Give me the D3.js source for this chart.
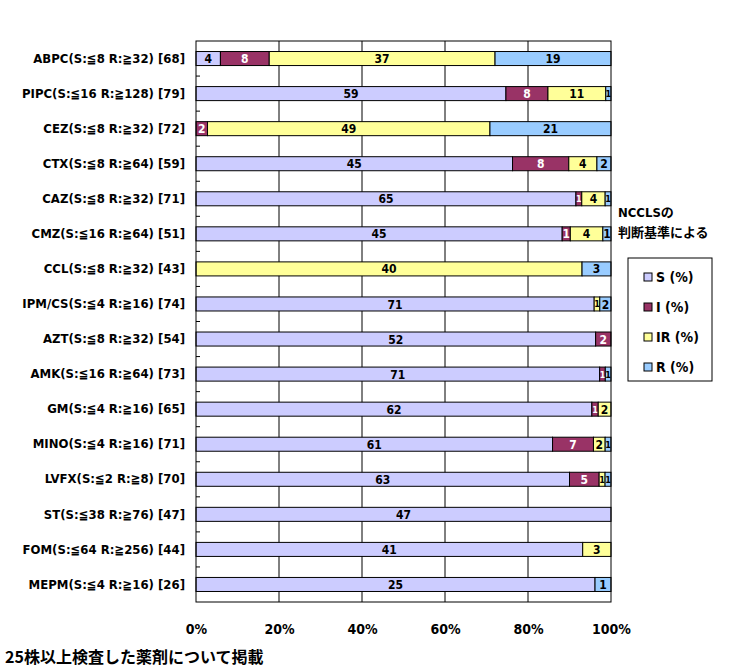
<!DOCTYPE html>
<html>
<head>
<meta charset="utf-8">
<script src="https://cdn.jsdelivr.net/npm/d3@7"></script>
<style>
  body { margin: 0; background: #fff; }
  svg text { font-family: "DejaVu Sans Condensed", "Noto Sans CJK JP", sans-serif; font-weight: bold; }
</style>
</head>
<body>
<div id="chartContainer"></div>
<script>
// drugs, top to bottom
const drugs = [
  "ABPC(S:≦8 R:≧32) [68]", "PIPC(S:≦16 R:≧128) [79]", "CEZ(S:≦8 R:≧32) [72]",
  "CTX(S:≦8 R:≧64) [59]", "CAZ(S:≦8 R:≧32) [71]", "CMZ(S:≦16 R:≧64) [51]",
  "CCL(S:≦8 R:≧32) [43]", "IPM/CS(S:≦4 R:≧16) [74]", "AZT(S:≦8 R:≧32) [54]",
  "AMK(S:≦16 R:≧64) [73]", "GM(S:≦4 R:≧16) [65]", "MINO(S:≦4 R:≧16) [71]",
  "LVFX(S:≦2 R:≧8) [70]", "ST(S:≦38 R:≧76) [47]", "FOM(S:≦64 R:≧256) [44]",
  "MEPM(S:≦4 R:≧16) [26]"
]
const sVals  = [4, 59, 0, 45, 65, 45, 0, 71, 52, 71, 62, 61, 63, 47, 41, 25]
const iVals  = [8, 8, 2, 8, 1, 1, 0, 0, 2, 1, 1, 7, 5, 0, 0, 0]
const irVals = [37, 11, 49, 4, 4, 4, 40, 1, 0, 0, 2, 2, 1, 0, 3, 0]
const rVals  = [19, 1, 21, 2, 1, 1, 3, 2, 0, 1, 0, 1, 1, 0, 0, 1]
const seriesNames = ["S (%)", "I (%)", "IR (%)", "R (%)"]
const seriesColors = ["#ccccff", "#993366", "#ffff99", "#99ccff"]
const xTicks = [0, 0.2, 0.4, 0.6, 0.8, 1]

const width = 738, height = 672
const margin = {top: 41, right: 127, bottom: 70, left: 196}

const rows = drugs.map((d, i) => ({
  name: d, s: sVals[i], i: iVals[i], ir: irVals[i], r: rVals[i]
}))
const keys = ["s", "i", "ir", "r"]

const stacked = d3.stack()
    .keys(keys)
    .offset(d3.stackOffsetExpand)(rows)

const x = d3.scaleLinear()
    .domain([0, 1])
    .range([margin.left, width - margin.right])

const y = d3.scaleBand()
    .domain(drugs)
    .range([margin.top, height - margin.bottom])
    .paddingInner(0.6)
    .paddingOuter(0.3)

const svg = d3.select('#chartContainer')
  .append('svg')
  .attr('width', width)
  .attr('height', height)

// vertical grid lines
svg.append("g")
  .selectAll("line")
  .data(xTicks.slice(1, -1))
  .join("line")
    .attr("x1", d => x(d)).attr("x2", d => x(d))
    .attr("y1", margin.top).attr("y2", height - margin.bottom)
    .attr("stroke", "#000")

// stacked segments
const layer = svg.append("g")
  .selectAll("g")
  .data(stacked)
  .join("g")
    .attr("fill", (d, i) => seriesColors[i])

layer.selectAll("rect")
  .data(d => d.filter(v => v[1] - v[0] > 0))
  .join("rect")
    .attr("x", d => x(d[0]))
    .attr("width", d => x(d[1]) - x(d[0]))
    .attr("y", d => y(d.data.name))
    .attr("height", y.bandwidth())
    .attr("stroke", "#000")
    .attr("stroke-width", 1)

// narrow segments get a smaller label so neighbours don't collide
let segW = v => x(v[1]) - x(v[0])

layer.selectAll("text")
  .data(d => d.filter(v => v[1] - v[0] > 0).map(v => ({v, key: d.key})))
  .join("text")
    .attr("x", d => (x(d.v[0]) + x(d.v[1])) / 2)
    .attr("y", d => y(d.v.data.name) + y.bandwidth() / 2)
    .attr("dy", "0.38em")
    .attr("text-anchor", "middle")
    .attr("font-size", d => segW(d.v) < 7 ? 9 : 12)
    .attr("fill", d => d.key == "i" ? "#fff" : "#000")
    .text(d => d.v.data[d.key])

// frame
svg.append("rect")
  .attr("x", margin.left).attr("y", margin.top)
  .attr("width", width - margin.right - margin.left)
  .attr("height", height - margin.bottom - margin.top)
  .attr("fill", "none")
  .attr("stroke", "#000")

// y axis: category labels and small boundary ticks
let yAxis = g => g
  .attr("transform", `translate(${margin.left},0)`)
  .call(d3.axisLeft(y).tickSize(0).tickPadding(11))
  .call(g => g.select(".domain").remove())
  .call(g => g.selectAll("text").attr("font-size", 13).attr("fill", "#000")
      .style("font-family", null))

svg.append("g").call(yAxis)

svg.append("g")
  .selectAll("line")
  .data(drugs.slice(1))
  .join("line")
    .attr("x1", margin.left).attr("x2", margin.left + 4)
    .attr("y1", d => y(d) - y.step() * y.paddingInner() / 2)
    .attr("y2", d => y(d) - y.step() * y.paddingInner() / 2)
    .attr("stroke", "#000")

// x axis labels
let xAxis = g => g
  .attr("transform", `translate(0,${height - margin.bottom + 19})`)
  .call(d3.axisBottom(x).tickValues(xTicks).tickFormat(d3.format(".0%")).tickSize(0))
  .call(g => g.select(".domain").remove())
  .call(g => g.selectAll("text").attr("font-size", 14).attr("fill", "#000")
      .style("font-family", null))

svg.append("g").call(xAxis)

// note on the right
svg.append("text")
  .attr("x", 618).attr("y", 217)
  .attr("font-size", 13)
  .text("NCCLSの")
svg.append("text")
  .attr("x", 618).attr("y", 237)
  .attr("font-size", 13)
  .text("判断基準による")

// legend
const legend = svg.append("g")
legend.append("rect")
  .attr("x", 628).attr("y", 258)
  .attr("width", 84).attr("height", 123)
  .attr("fill", "#fff").attr("stroke", "#000")

const item = legend.selectAll("g")
  .data(seriesNames)
  .join("g")
    .attr("transform", (d, i) => `translate(644,${277 + i * 30})`)

item.append("rect")
  .attr("x", 0).attr("y", -4)
  .attr("width", 8).attr("height", 8)
  .attr("fill", (d, i) => seriesColors[i])
  .attr("stroke", "#000")

item.append("text")
  .attr("x", 12).attr("dy", "0.36em")
  .attr("font-size", 14)
  .text(d => d)

// footnote
svg.append("text")
  .attr("x", 5).attr("y", 663)
  .attr("font-size", 16)
  .style("font-family", "'Noto Sans CJK JP', sans-serif")
  .text("25株以上検査した薬剤について掲載")
</script>
</body>
</html>
